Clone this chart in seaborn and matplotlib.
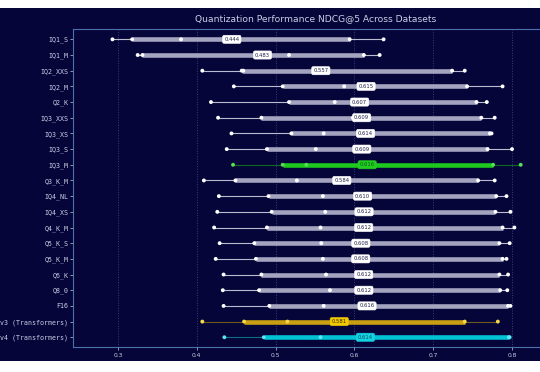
import numpy as np
import pandas as pd
import matplotlib
matplotlib.use("Agg")
import matplotlib.pyplot as plt
from matplotlib.patches import Rectangle
import seaborn as sns

# quant variants, top to bottom
quants = ["IQ1_S", "IQ1_M", "IQ2_XXS", "IQ2_M", "Q2_K", "IQ3_XXS", "IQ3_XS", "IQ3_S",
          "IQ3_M", "Q3_K_M", "IQ4_NL", "IQ4_XS", "Q4_K_M", "Q5_K_S", "Q5_K_M", "Q6_K",
          "Q8_0", "F16", "v3 (Transformers)", "v4 (Transformers)"]

# NDCG@5 per dataset (5 datasets), sorted low -> high for each quant
score_1 = [0.293, 0.325, 0.407, 0.447, 0.418, 0.427, 0.444, 0.438, 0.446, 0.409,
           0.428, 0.426, 0.422, 0.429, 0.424, 0.434, 0.433, 0.434, 0.407, 0.435]
score_2 = [0.318, 0.331, 0.457, 0.509, 0.517, 0.482, 0.520, 0.489, 0.509, 0.449,
           0.491, 0.495, 0.489, 0.473, 0.475, 0.482, 0.479, 0.492, 0.460, 0.485]
score_3 = [0.380, 0.517, 0.459, 0.587, 0.575, 0.598, 0.561, 0.551, 0.539, 0.527,
           0.560, 0.563, 0.557, 0.558, 0.560, 0.564, 0.569, 0.561, 0.515, 0.557]
score_4 = [0.594, 0.612, 0.724, 0.743, 0.755, 0.761, 0.772, 0.769, 0.776, 0.757,
           0.780, 0.779, 0.788, 0.784, 0.788, 0.784, 0.785, 0.795, 0.740, 0.796]
score_5 = [0.637, 0.632, 0.740, 0.788, 0.768, 0.778, 0.774, 0.800, 0.811, 0.778,
           0.793, 0.798, 0.803, 0.797, 0.793, 0.795, 0.794, 0.798, 0.782, 0.797]

x_ticks = [0.3, 0.4, 0.5, 0.6, 0.7, 0.8]

# highlighted rows: (dot, thick bar, thin line, label box, label text)
highlight = {
    "IQ3_M": ("#55e055", "#1ec81e", "#0e6a22", "#22cc22", "#0a5a14"),
    "v3 (Transformers)": ("#f7d84a", "#c9a012", "#6e5a1e", "#f2c800", "#3a2a00"),
    "v4 (Transformers)": ("#5ae6f2", "#00c2d4", "#0e6e84", "#14d2e2", "#06505c"),
}
default_style = ("#ffffff", "#a4a4c0", "#bcbcd0", "#ffffff", "#20204a")

BG = "#05053a"
SPINE = "#4a72a8"
TXT = "#c8d0e4"

df = pd.DataFrame({
    "quant": np.repeat(quants, 5),
    "score": np.column_stack([score_1, score_2, score_3, score_4, score_5]).ravel(),
})
stats = df.groupby("quant", sort=False)["score"].agg(
    lo="min", hi="max", mean="mean",
    q1=lambda s: np.percentile(s, 25), q3=lambda s: np.percentile(s, 75),
).reindex(quants)

fig = plt.figure(figsize=(5.4, 3.72), dpi=100, facecolor="white")
# dark canvas with thin white strips top and bottom, as in the source image
fig.patches.append(Rectangle((0, 11 / 372), 1, 353 / 372, transform=fig.transFigure,
                             facecolor=BG, edgecolor="none", zorder=-10))
# plot area runs off the right edge of the image (source is cropped there)
ax = fig.add_axes([73.3 / 540, 24.7 / 372, 1 - 73.3 / 540, 318 / 372])
ax.set_facecolor(BG)

dot_palette = {q: highlight.get(q, default_style)[0] for q in quants}
sns.stripplot(data=df, x="score", y="quant", hue="quant", order=quants,
              palette=dot_palette, jitter=False, size=2.8, linewidth=0,
              legend=False, ax=ax, zorder=4)

for i, q in enumerate(quants):
    dot_c, bar_c, thin_c, box_c, lab_c = highlight.get(q, default_style)
    r = stats.loc[q]
    ax.hlines(i, r["lo"], r["hi"], color=thin_c, lw=0.8, zorder=1)
    ax.hlines(i, r["q1"], r["q3"], color=bar_c, lw=3.3, zorder=2)
    ax.text(r["mean"], i, f"{r['mean']:.3f}", ha="center", va="center",
            fontsize=3.8, color=lab_c, zorder=5,
            bbox=dict(boxstyle="round,pad=0.3", fc=box_c, ec=box_c, lw=0.4))

ax.set_xlim(0.2433, 0.8355)
ax.set_ylim(len(quants) - 1 + 0.64, -0.64)
ax.set_xticks(x_ticks)
ax.set_xticklabels([f"{t:.1f}" for t in x_ticks])
ax.set_xlabel("")
ax.set_ylabel("")
ax.grid(axis="x", color="#3c3c86", linestyle=":", lw=0.7, zorder=0)
ax.grid(axis="y", visible=False)
ax.set_axisbelow(True)

for side in ["left", "top", "bottom"]:
    ax.spines[side].set_color(SPINE)
    ax.spines[side].set_linewidth(0.8)
ax.spines["right"].set_visible(False)

ax.tick_params(axis="y", colors=TXT, labelsize=4.8, length=2, width=0.5, pad=1.5)
ax.tick_params(axis="x", colors=TXT, labelsize=4.3, length=2, width=0.5, pad=2)
for lbl in ax.get_yticklabels():
    lbl.set_fontfamily("DejaVu Sans Mono")

ax.set_title("Quantization Performance NDCG@5 Across Datasets", color=TXT,
             fontsize=6.6, pad=6, x=(316 - 73.3) / (540 - 73.3))

fig.savefig("out.png", dpi=100, facecolor=fig.get_facecolor())
